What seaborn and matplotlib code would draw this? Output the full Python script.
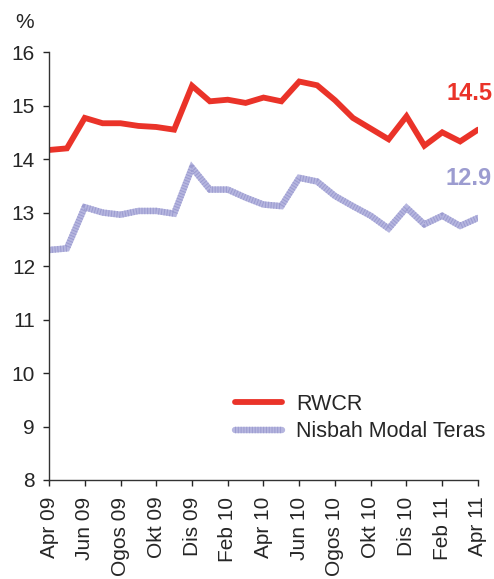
import numpy as np
import pandas as pd
import matplotlib
matplotlib.use('Agg')
import matplotlib.pyplot as plt
import seaborn as sns

SET_DPI = 100
FIGSIZE = (4.94, 5.79)

months = ['Apr 09', 'Mei 09', 'Jun 09', 'Jul 09', 'Ogos 09', 'Sep 09', 'Okt 09',
          'Nov 09', 'Dis 09', 'Jan 10', 'Feb 10', 'Mac 10', 'Apr 10', 'Mei 10',
          'Jun 10', 'Jul 10', 'Ogos 10', 'Sep 10', 'Okt 10', 'Nov 10', 'Dis 10',
          'Jan 11', 'Feb 11', 'Mac 11', 'Apr 11']
rwcr = [14.17, 14.20, 14.77, 14.67, 14.67, 14.62, 14.60, 14.55, 15.37, 15.08,
        15.11, 15.05, 15.15, 15.08, 15.45, 15.38, 15.10, 14.77, 14.57, 14.37,
        14.80, 14.25, 14.50, 14.33, 14.55]
teras = [12.30, 12.33, 13.10, 13.00, 12.96, 13.03, 13.03, 12.98, 13.84, 13.43,
         13.43, 13.28, 13.15, 13.12, 13.65, 13.58, 13.31, 13.12, 12.94, 12.70,
         13.09, 12.78, 12.94, 12.75, 12.90]
tick_labels = months[::2]
end_labels = ['14.5', '12.9']

red = '#ea3329'
lav = '#b6b6df'
lav_dark = '#9c9cd0'

df = pd.DataFrame({'idx': np.arange(len(months)), 'RWCR': rwcr,
                   'Nisbah Modal Teras': teras})

sns.set_style('ticks')
plt.rcParams['font.family'] = ['Liberation Sans', 'DejaVu Sans']

fig = plt.figure(figsize=FIGSIZE, dpi=SET_DPI)
ax = fig.add_axes([0.0992, 0.171, 0.8684, 0.739])

sns.lineplot(data=df, x='idx', y='RWCR', ax=ax, color=red, linewidth=4.2,
             solid_joinstyle='miter', legend=False)
sns.lineplot(data=df, x='idx', y='Nisbah Modal Teras', ax=ax, color=lav,
             linewidth=4.6, solid_joinstyle='miter', legend=False)
# stripe texture on the core capital line
sns.lineplot(data=df, x='idx', y='Nisbah Modal Teras', ax=ax, color=lav_dark,
             linewidth=4.6, linestyle=(0, (0.16, 0.28)), dash_capstyle='butt',
             legend=False)

ax.set_xlim(0, len(months) - 1)
ax.set_ylim(8, 16)
ax.set_yticks(range(8, 17))
ax.set_xticks(range(0, len(months), 2))
ax.set_xticklabels(tick_labels, rotation=90, fontsize=15)
ax.tick_params(axis='y', labelsize=15, length=4, direction='out', width=1, pad=6)
ax.tick_params(axis='x', length=4, direction='out', width=1, pad=8)
ax.set_xlabel('')
ax.set_ylabel('')
for s in ['top', 'right']:
    ax.spines[s].set_visible(False)
for s in ['left', 'bottom']:
    ax.spines[s].set_color('#333333')
    ax.spines[s].set_linewidth(1)

fig.text(0.030, 1 - 22 / 579, '%', fontsize=15, ha='left', va='center')

fig.text(0.996, 1 - 93 / 579, end_labels[0], color=red, fontsize=17,
         fontweight='bold', ha='right', va='center')
fig.text(0.996, 1 - 178 / 579, end_labels[1], color=lav_dark, fontsize=17,
         fontweight='bold', ha='right', va='center')

lines = ax.get_lines()
ax.legend([lines[0], (lines[1], lines[2])], ['RWCR', 'Nisbah Modal Teras'],
          loc='upper left',
          bbox_to_anchor=(235 / 494, 1 - 394 / 579), bbox_transform=fig.transFigure,
          frameon=False, fontsize=15.5, handlelength=2.2, handletextpad=0.65,
          labelspacing=0.3, borderpad=0, borderaxespad=0)

fig.savefig('out.png', dpi=SET_DPI)
plt.close()
